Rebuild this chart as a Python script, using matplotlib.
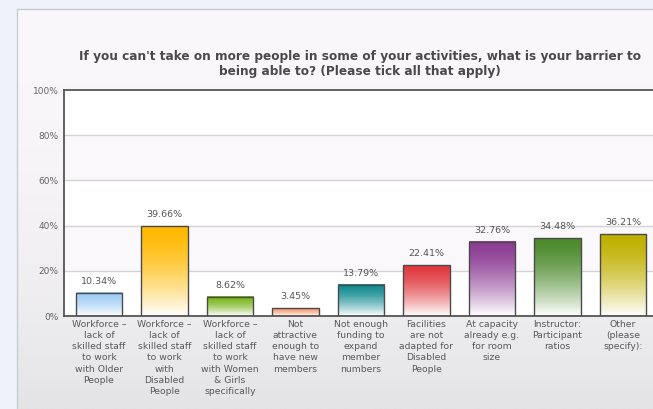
import numpy as np
import matplotlib
matplotlib.use("Agg")
import matplotlib.pyplot as plt
from matplotlib.colors import to_rgb

title = ("If you can't take on more people in some of your activities, what is your barrier to\n"
         "being able to? (Please tick all that apply)")

categories = [
    "Workforce –\nlack of\nskilled staff\nto work\nwith Older\nPeople",
    "Workforce –\nlack of\nskilled staff\nto work\nwith\nDisabled\nPeople",
    "Workforce –\nlack of\nskilled staff\nto work\nwith Women\n& Girls\nspecifically",
    "Not\nattractive\nenough to\nhave new\nmembers",
    "Not enough\nfunding to\nexpand\nmember\nnumbers",
    "Facilities\nare not\nadapted for\nDisabled\nPeople",
    "At capacity\nalready e.g.\nfor room\nsize",
    "Instructor:\nParticipant\nratios",
    "Other\n(please\nspecify):",
]
values = [10.34, 39.66, 8.62, 3.45, 13.79, 22.41, 32.76, 34.48, 36.21]
bar_colors = ["#9ccbf3", "#ffb900", "#78b41a", "#f7976a", "#128a90",
              "#e0393f", "#8c3c94", "#4c8a2c", "#c0b000"]
yticks = [0, 20, 40, 60, 80, 100]

W, H = 653, 409
fig = plt.figure(figsize=(W / 100, H / 100), dpi=100)
fig.patch.set_facecolor("#eef3fb")

# panel background with gradient
px0, py0 = 17 / W, 9 / H
pan = fig.add_axes([px0, 0, 1 - px0, 1 - py0])
grad = np.linspace(0, 1, 256)[:, None]
c_top = np.array(to_rgb("#fbf8fb"))
c_bot = np.array(to_rgb("#e4e4e6"))
img = c_top[None, None, :] * (1 - grad[..., None] ** 1.8) + c_bot[None, None, :] * grad[..., None] ** 1.8
pan.imshow(img, aspect="auto", extent=[0, 1, 0, 1])
pan.set_xlim(0, 1); pan.set_ylim(0, 1)
pan.set_xticks([]); pan.set_yticks([])
for s in ["right", "bottom"]:
    pan.spines[s].set_visible(False)
for s in ["left", "top"]:
    pan.spines[s].set_color("#c8ccd4")
    pan.spines[s].set_linewidth(1)

# main axes
ax_left, ax_right, ax_top, ax_bot = 64, 653, 90, 316
ax = fig.add_axes([ax_left / W, 1 - ax_bot / H, (ax_right - ax_left) / W, (ax_bot - ax_top) / H])
ax.set_facecolor("white")
x = np.arange(len(values))

# alternating bands
for i, (a, b) in enumerate(zip(yticks[:-1], yticks[1:])):
    if i % 2 == 1:
        ax.axhspan(a, b, color="#fbf8fb", zorder=0, lw=0)
for t in yticks[1:-1]:
    ax.axhline(t, color="#d4d4d4", lw=1, zorder=1)

bars = ax.bar(x, values, width=0.71, facecolor="none", edgecolor="#4a4a4a", linewidth=1, zorder=3)
for p, col in zip(bars.patches, bar_colors):
    c = np.array(to_rgb(col))
    g = np.linspace(0, 1, 128)[:, None, None]  # 0 at top
    w = np.array([1.0, 1.0, 1.0])
    gi = c[None, None, :] * (1 - g ** 1.5) + w[None, None, :] * g ** 1.5
    ax.imshow(gi, aspect="auto", extent=[p.get_x(), p.get_x() + p.get_width(), 0, p.get_height()],
              zorder=2, interpolation="bilinear")
ax.set_xlim(-0.535, 8.46)
ax.set_ylim(0, 100)

for xi, v in zip(x, values):
    ax.annotate(f"{v:.2f}%", (xi, v), xytext=(0, 5), textcoords="offset points",
                ha="center", va="bottom", fontsize=6.8, color="#555555")

ax.set_xticks(x)
ax.set_xticklabels(categories, fontsize=6.7, color="#5a5a5a", linespacing=1.3)
ax.tick_params(axis="x", length=0, pad=3)
ax.set_yticks(yticks)
ax.set_yticklabels([f"{t}%" for t in yticks], fontsize=6.5, color="#666666")
ax.tick_params(axis="y", length=0, pad=4)
for s in ["left", "top", "bottom"]:
    ax.spines[s].set_color("#555555")
    ax.spines[s].set_linewidth(1.3)
ax.spines["right"].set_visible(False)

fig.text(360 / W, 1 - 64 / H, title, ha="center", va="center", fontsize=8.7,
         fontweight="bold", color="#4a4a4a", linespacing=1.2)

fig.savefig("out.png", dpi=100, facecolor=fig.get_facecolor())
